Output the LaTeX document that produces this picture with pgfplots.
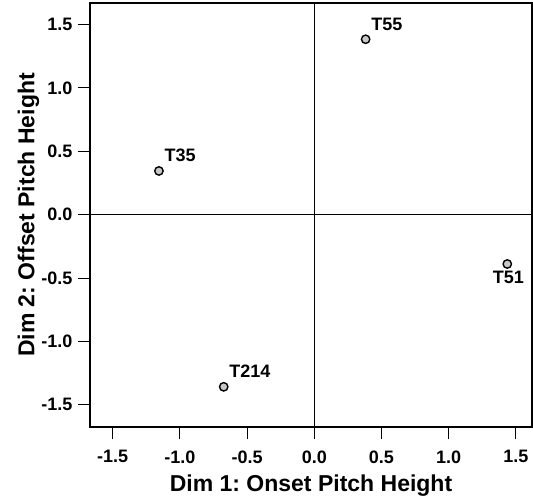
\documentclass[border=0pt]{standalone}
\usepackage{fontspec}
\setmainfont{Liberation Sans}
\usepackage{pgfplots}
\pgfplotsset{compat=1.18}
\frenchspacing

\definecolor{markgray}{RGB}{200,200,200}

\pgfplotstableread{
x       y       label
0.382   1.384   T55
-1.156  0.345   T35
-0.674  -1.358  T214
}\upperlabels

\pgfplotstableread{
x       y       label
1.436   -0.389  T51
}\lowerlabels

\begin{document}
\begin{tikzpicture}
\useasboundingbox (-90bp,-74bp) rectangle (443bp,427bp);
\begin{axis}[
  at={(0,0)}, anchor=south west,
  scale only axis,
  width=442bp, height=424bp,
  xmin=-1.669, xmax=1.620,
  ymin=-1.675, ymax=1.670,
  xtick={-1.5,-1,...,1.5},
  ytick={-1.5,-1,...,1.5},
  tick align=outside,
  major tick length=12bp,
  tick style={line width=1bp, black},
  axis line style={line width=1.3bp},
  xtick pos=bottom, ytick pos=left,
  /pgf/number format/assume math mode=true,
  /pgf/number format/.cd, fixed, fixed zerofill, precision=1,
  /pgfplots/.cd,
  tick label style={font=\fontsize{18bp}{20bp}\selectfont\bfseries},
  xticklabel style={anchor=north, yshift=-8bp},
  yticklabel style={anchor=east, xshift=-2bp},
  xlabel={Dim 1: Onset Pitch Height},
  ylabel={Dim 2: Offset Pitch Height},
  label style={font=\fontsize{23bp}{26bp}\selectfont\bfseries},
  xlabel style={at={(axis description cs:0.5,-0.151)}, anchor=base},
  ylabel style={at={(axis description cs:-0.126,0.5)}, anchor=base, rotate=0},
  clip=false,
  extra x ticks={0}, extra y ticks={0},
  extra tick style={grid=major, major grid style={line width=0.9bp, black},
    tick style={draw=none}, xticklabel=\empty, yticklabel=\empty},
]
\addplot[only marks, mark=*, mark size=4.2bp,
  mark options={fill=markgray, draw=black, line width=1.4bp},
  nodes near coords, point meta=explicit symbolic,
  every node near coord/.style={anchor=base west, xshift=4bp, yshift=9bp,
    font=\fontsize{18bp}{20bp}\selectfont\bfseries, inner sep=1bp}]
  table[x=x, y=y, meta=label] {\upperlabels};
\addplot[only marks, mark=*, mark size=4.2bp,
  mark options={fill=markgray, draw=black, line width=1.4bp},
  nodes near coords, point meta=explicit symbolic,
  every node near coord/.style={anchor=north, xshift=1bp, yshift=-5bp,
    font=\fontsize{18bp}{20bp}\selectfont\bfseries, inner sep=1bp}]
  table[x=x, y=y, meta=label] {\lowerlabels};
\end{axis}
\end{tikzpicture}
\end{document}
